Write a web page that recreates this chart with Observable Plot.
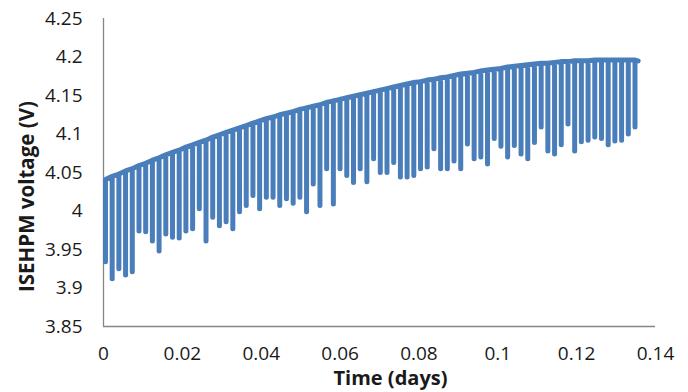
<!DOCTYPE html>
<html>
<head>
<meta charset="utf-8">
<script src="https://cdn.jsdelivr.net/npm/d3@7"></script>
<script src="https://cdn.jsdelivr.net/npm/@observablehq/plot@0.6"></script>
<style>
  html, body { margin: 0; padding: 0; background: #fff; }
  #chart { width: 688px; height: 392px; }
</style>
</head>
<body>
<div id="chart"></div>
<script>
// Time of each charge/discharge cycle (days)
const cycleTimes = [0.0005, 0.0022, 0.0039, 0.0056, 0.0073, 0.0090, 0.0107, 0.0124, 0.0141, 0.0158,
  0.0175, 0.0192, 0.0209, 0.0226, 0.0243, 0.0260, 0.0277, 0.0294, 0.0311, 0.0328,
  0.0345, 0.0362, 0.0379, 0.0396, 0.0413, 0.0430, 0.0447, 0.0464, 0.0481, 0.0498,
  0.0515, 0.0532, 0.0549, 0.0566, 0.0583, 0.0600, 0.0617, 0.0634, 0.0651, 0.0668,
  0.0685, 0.0702, 0.0719, 0.0736, 0.0753, 0.0770, 0.0787, 0.0804, 0.0821, 0.0838,
  0.0855, 0.0872, 0.0889, 0.0906, 0.0923, 0.0940, 0.0957, 0.0974, 0.0991, 0.1008,
  0.1025, 0.1042, 0.1059, 0.1076, 0.1093, 0.1110, 0.1127, 0.1144, 0.1161, 0.1178,
  0.1195, 0.1212, 0.1229, 0.1246, 0.1263, 0.1280, 0.1297, 0.1314, 0.1331, 0.1348];
// Peak voltage before each dip (V)
const peakVoltage = [4.041, 4.045, 4.048, 4.052, 4.055, 4.059, 4.062, 4.066, 4.069, 4.073,
  4.076, 4.079, 4.083, 4.086, 4.089, 4.092, 4.096, 4.099, 4.102, 4.105,
  4.108, 4.111, 4.114, 4.117, 4.120, 4.122, 4.125, 4.127, 4.129, 4.132,
  4.134, 4.136, 4.138, 4.141, 4.143, 4.145, 4.147, 4.149, 4.151, 4.153,
  4.155, 4.157, 4.159, 4.161, 4.163, 4.165, 4.167, 4.168, 4.170, 4.171,
  4.173, 4.174, 4.176, 4.178, 4.179, 4.180, 4.182, 4.183, 4.184, 4.185,
  4.187, 4.188, 4.189, 4.190, 4.191, 4.192, 4.192, 4.193, 4.194, 4.194,
  4.195, 4.195, 4.195, 4.196, 4.196, 4.196, 4.196, 4.196, 4.196, 4.196];
// Minimum voltage of each dip (V)
const dipVoltage = [3.934, 3.912, 3.925, 3.917, 3.921, 3.974, 3.973, 3.961, 3.948, 3.970,
  3.966, 3.965, 3.974, 3.977, 4.003, 3.961, 3.992, 3.981, 3.986, 3.977,
  3.999, 4.007, 4.020, 4.003, 4.018, 4.018, 4.007, 4.016, 4.010, 4.018,
  3.999, 4.035, 4.007, 4.055, 4.009, 4.055, 4.046, 4.037, 4.055, 4.038,
  4.068, 4.050, 4.050, 4.063, 4.044, 4.044, 4.046, 4.055, 4.057, 4.081,
  4.055, 4.055, 4.065, 4.055, 4.087, 4.068, 4.070, 4.061, 4.094, 4.084,
  4.070, 4.085, 4.074, 4.068, 4.089, 4.109, 4.078, 4.074, 4.086, 4.113,
  4.078, 4.090, 4.092, 4.096, 4.094, 4.086, 4.091, 4.092, 4.100, 4.109];
const endTime = 0.1356;
const endVoltage = 4.195;

const xTicks = [0, 0.02, 0.04, 0.06, 0.08, 0.1, 0.12, 0.14];
const yTicks = [3.85, 3.9, 3.95, 4, 4.05, 4.1, 4.15, 4.2, 4.25];
const xTitle = "Time (days)";
const yTitle = "ISEHPM voltage (V)";

// Build the line path: peak -> dip -> peak at each cycle time
const points = [];
cycleTimes.forEach((t, i) => {
  points.push({t, v: peakVoltage[i]});
  points.push({t, v: dipVoltage[i]});
  points.push({t, v: peakVoltage[i]});
});
points.push({t: endTime, v: endVoltage});

const font = "'Open Sans', 'Liberation Sans', sans-serif";
const axisColor = "#868686";
const textColor = "#1a1a1a";

const chart = Plot.plot({
  width: 688,
  height: 392,
  marginLeft: 103,
  marginRight: 33,
  marginTop: 18,
  marginBottom: 66,
  style: {fontFamily: font, fontSize: "18px", color: textColor, background: "#fff"},
  x: {domain: [0, 0.14]},
  y: {domain: [3.85, 4.25]},
  marks: [
    Plot.ruleX([0], {stroke: axisColor, strokeWidth: 1.3}),
    Plot.ruleY([3.85], {stroke: axisColor, strokeWidth: 1.3}),
    Plot.line(points, {
      x: "t", y: "v",
      stroke: "#4a7ebb", strokeWidth: 5,
      strokeLinejoin: "round", strokeLinecap: "round"
    }),
    Plot.axisX({ticks: xTicks, tickSize: 0, tickPadding: 20, tickFormat: d => String(d),
      label: null, fill: textColor, fontSize: 19}),
    Plot.axisY({ticks: yTicks, tickSize: 0, tickPadding: 21, tickFormat: d => String(d),
      label: null, fill: textColor, fontSize: 19}),
    Plot.text([xTitle], {frameAnchor: "bottom", dx: 11, dy: 52, lineAnchor: "middle",
      fontWeight: "bold", fontSize: 20, fill: textColor}),
    Plot.text([yTitle], {frameAnchor: "left", dx: -76, dy: 24, rotate: -90, lineAnchor: "middle",
      textAnchor: "middle", fontWeight: "bold", fontSize: 20.5, fill: textColor})
  ]
});
document.getElementById("chart").appendChild(chart);
</script>
</body>
</html>
